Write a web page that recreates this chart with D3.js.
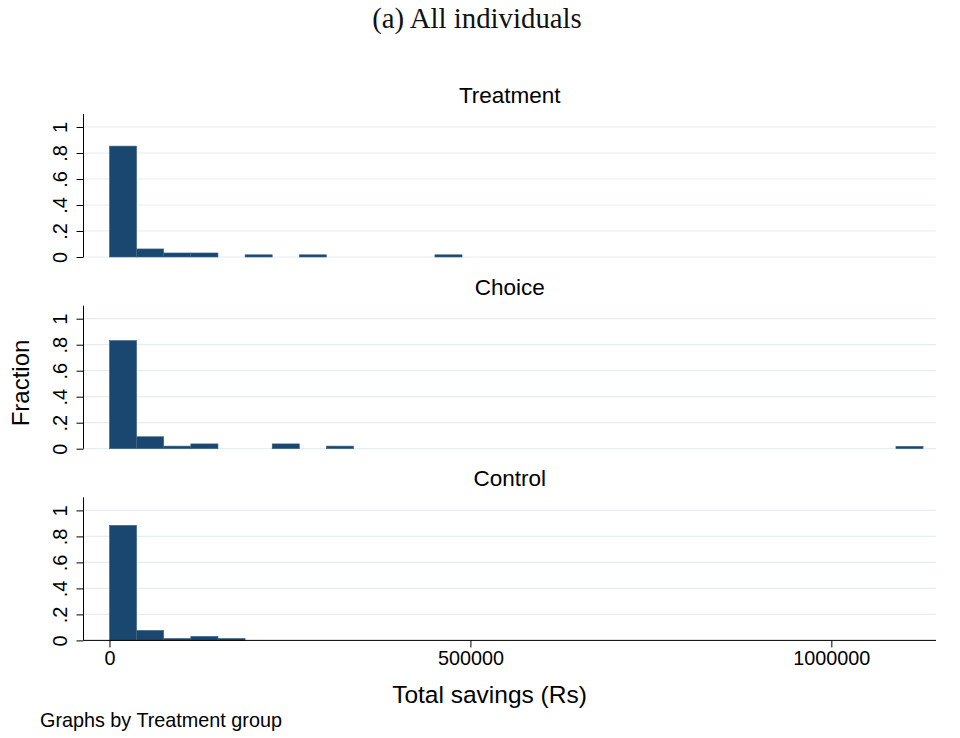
<!DOCTYPE html>
<html>
<head>
<meta charset="utf-8">
<script src="https://cdn.jsdelivr.net/npm/d3@7"></script>
<style>
  html, body { margin: 0; padding: 0; background: #fff; }
  svg { display: block; }
</style>
</head>
<body>
<svg id="chart" width="960" height="738"></svg>
<script>
// Histogram of total savings by treatment group (fraction of individuals per bin)
const groups = ["Treatment", "Choice", "Control"];
const binWidth = 37570;              // Rs per bin, common to all panels
const xTicks = [0, 500000, 1000000];
const yTicks = [0, 0.2, 0.4, 0.6, 0.8, 1];
const yTickLabels = ["0", ".2", ".4", ".6", ".8", "1"];

// bin index -> fraction of the group's individuals
const treatmentBins = [0, 1, 2, 3, 5, 7, 12];
const treatmentFrac = [0.853, 0.062, 0.031, 0.031, 0.017, 0.017, 0.017];
const choiceBins = [0, 1, 2, 3, 6, 8, 29];
const choiceFrac = [0.832, 0.092, 0.02, 0.037, 0.037, 0.02, 0.018];
const controlBins = [0, 1, 2, 3, 4];
const controlFrac = [0.885, 0.077, 0.015, 0.031, 0.015];

const panelData = [
  { name: groups[0], bins: treatmentBins, frac: treatmentFrac },
  { name: groups[1], bins: choiceBins, frac: choiceFrac },
  { name: groups[2], bins: controlBins, frac: controlFrac }
];

const svg = d3.select("#chart");
const sans = "'Liberation Sans', Arial, Helvetica, sans-serif";
const barColor = "#1a476f";
const gridColor = "#e6edf0";

const left = 83.5, right = 936;
const panelTop0 = 114, panelStep = 191.7, panelH = 143;

const x = d3.scaleLinear().domain([-36000, 1145000]).range([left, right]);

svg.append("rect").attr("width", 960).attr("height", 738).attr("fill", "#fff");

// Main title
svg.append("text")
  .attr("x", 477).attr("y", 28)
  .attr("text-anchor", "middle")
  .attr("font-family", "'Liberation Serif', 'Times New Roman', serif")
  .attr("font-size", 28.8)
  .attr("fill", "#111")
  .text("(a) All individuals");

panelData.forEach((p, i) => {
  const top = panelTop0 + i * panelStep;
  const bottom = top + panelH;
  const y = d3.scaleLinear().domain([0, 1.1]).range([bottom, top]);
  const g = svg.append("g");

  // panel title
  g.append("text")
    .attr("x", (left + right) / 2).attr("y", top - 11)
    .attr("text-anchor", "middle")
    .attr("font-family", sans).attr("font-size", 22.5)
    .attr("fill", "#000")
    .text(p.name);

  // horizontal gridlines
  g.selectAll("line.grid").data(yTicks).enter().append("line")
    .attr("class", "grid")
    .attr("x1", left).attr("x2", right)
    .attr("y1", d => y(d)).attr("y2", d => y(d))
    .attr("stroke", gridColor).attr("stroke-width", 1.2);

  // bars
  const bars = p.bins.map((b, k) => ({ x0: b * binWidth, x1: (b + 1) * binWidth, v: p.frac[k] }));
  g.selectAll("rect.bar").data(bars).enter().append("rect")
    .attr("class", "bar")
    .attr("x", d => x(d.x0))
    .attr("width", d => x(d.x1) - x(d.x0))
    .attr("y", d => y(d.v))
    .attr("height", d => y(0) - y(d.v))
    .attr("fill", barColor)
    .attr("stroke", "#3d6489").attr("stroke-width", 0.6);

  // y axis
  const yAxis = d3.axisLeft(y)
    .tickValues(yTicks)
    .tickFormat((d, k) => yTickLabels[k])
    .tickSize(7).tickPadding(0);
  const ya = g.append("g").attr("transform", `translate(${left},0)`).call(yAxis);
  ya.select(".domain").attr("d", `M0,${top}V${bottom}`).attr("stroke", "#000").attr("stroke-width", 1);
  ya.selectAll(".tick line").attr("stroke", "#000");
  ya.selectAll(".tick text")
    .attr("font-family", sans).attr("font-size", 20).attr("fill", "#000")
    .attr("transform", "rotate(-90)")
    .attr("x", 0).attr("y", -17)
    .attr("dy", 0)
    .attr("text-anchor", "middle");
});

// x axis on the bottom panel
const bottomY = panelTop0 + 2 * panelStep + panelH;
const xAxis = d3.axisBottom(x).tickValues(xTicks).tickFormat(d3.format("d")).tickSize(7).tickPadding(4);
const xa = svg.append("g").attr("transform", `translate(0,${bottomY})`).call(xAxis);
xa.select(".domain").attr("d", `M${left},0H${right}`).attr("stroke", "#000").attr("stroke-width", 1);
xa.selectAll(".tick line").attr("stroke", "#000");
xa.selectAll(".tick text").attr("font-family", sans).attr("font-size", 19.8).attr("fill", "#000");

// axis titles
svg.append("text")
  .attr("x", 489.5).attr("y", 703)
  .attr("text-anchor", "middle")
  .attr("font-family", sans).attr("font-size", 24.5).attr("fill", "#000")
  .text("Total savings (Rs)");

svg.append("text")
  .attr("transform", "translate(29,383) rotate(-90)")
  .attr("text-anchor", "middle")
  .attr("font-family", sans).attr("font-size", 24).attr("fill", "#000")
  .text("Fraction");

// note
svg.append("text")
  .attr("x", 40).attr("y", 727)
  .attr("font-family", sans).attr("font-size", 19.8).attr("fill", "#000")
  .text("Graphs by Treatment group");
</script>
</body>
</html>
